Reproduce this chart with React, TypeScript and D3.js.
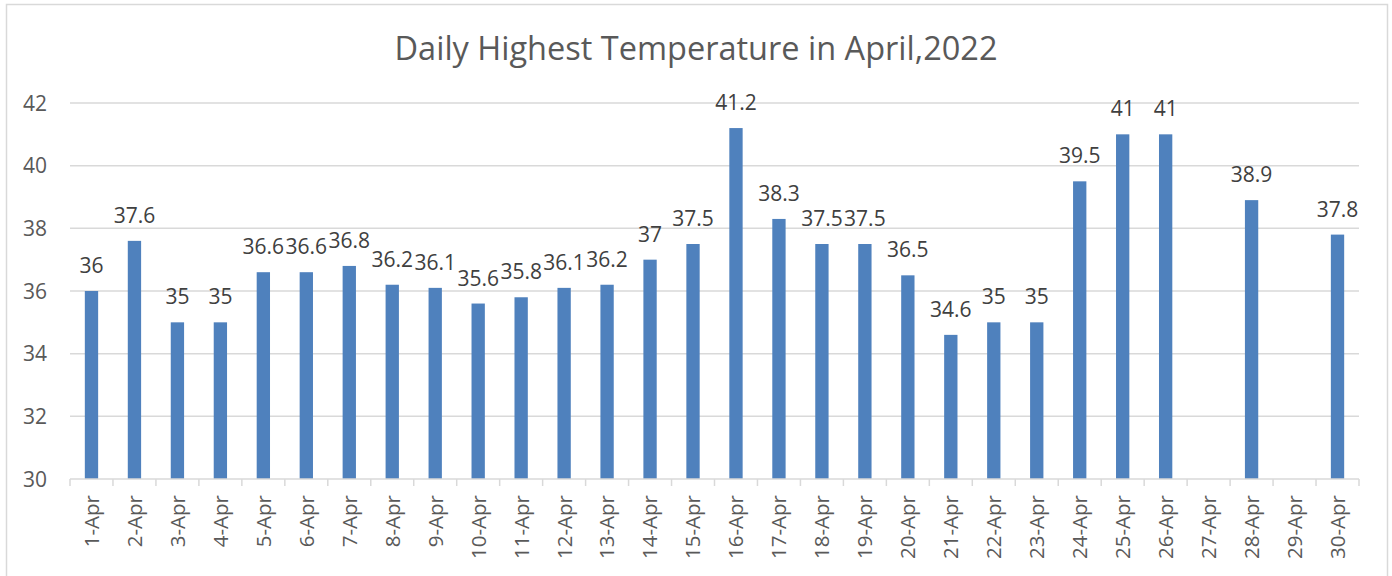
import React, { useEffect, useRef } from 'react';
import * as d3 from 'd3';

const days: string[] = [
    '1-Apr', '2-Apr', '3-Apr', '4-Apr', '5-Apr', '6-Apr', '7-Apr', '8-Apr', '9-Apr', '10-Apr',
    '11-Apr', '12-Apr', '13-Apr', '14-Apr', '15-Apr', '16-Apr', '17-Apr', '18-Apr', '19-Apr', '20-Apr',
    '21-Apr', '22-Apr', '23-Apr', '24-Apr', '25-Apr', '26-Apr', '27-Apr', '28-Apr', '29-Apr', '30-Apr',
];

const highs: (number | null)[] = [
    36, 37.6, 35, 35, 36.6, 36.6, 36.8, 36.2, 36.1, 35.6,
    35.8, 36.1, 36.2, 37, 37.5, 41.2, 38.3, 37.5, 37.5, 36.5,
    34.6, 35, 35, 39.5, 41, 41, null, 38.9, null, 37.8,
];

const yTicks = [30, 32, 34, 36, 38, 40, 42];
const title = 'Daily Highest Temperature in April,2022';

const W = 1392;
const H = 576;
const FONT = '"Open Sans", sans-serif';

const App: React.FC = () => {
    const svgRef = useRef<SVGSVGElement>(null);

    useEffect(() => {
        if (!svgRef.current) return;
        const svg = d3.select(svgRef.current);
        svg.selectAll('*').remove();

        const margin = { top: 103, right: 33, bottom: 97, left: 70 };
        const innerW = W - margin.left - margin.right;
        const innerH = H - margin.top - margin.bottom;

        // outer chart frame
        svg.append('rect')
            .attr('x', 6.5).attr('y', 4.5)
            .attr('width', 1381).attr('height', 600)
            .attr('fill', '#fff')
            .attr('stroke', '#d9d9d9')
            .attr('stroke-width', 1.5);

        svg.append('text')
            .attr('x', W / 2)
            .attr('y', 60)
            .attr('text-anchor', 'middle')
            .attr('font-family', FONT)
            .attr('font-size', 32.5)
            .attr('fill', '#595959')
            .text(title);

        const g = svg.append('g').attr('transform', `translate(${margin.left},${margin.top})`);

        const x = d3.scaleBand<string>()
            .domain(days)
            .range([0, innerW])
            .paddingInner(0.69)
            .paddingOuter(0.345);

        const y = d3.scaleLinear().domain([30, 42]).range([innerH, 0]);

        // gridlines
        g.append('g').selectAll('line')
            .data(yTicks.filter(t => t !== 30))
            .join('line')
            .attr('x1', 0).attr('x2', innerW)
            .attr('y1', d => y(d)).attr('y2', d => y(d))
            .attr('stroke', '#d9d9d9')
            .attr('stroke-width', 1.5);

        // y labels
        g.append('g').selectAll('text')
            .data(yTicks)
            .join('text')
            .attr('x', -23)
            .attr('y', d => y(d))
            .attr('dy', '0.36em')
            .attr('text-anchor', 'end')
            .attr('font-family', FONT)
            .attr('font-size', 21)
            .attr('fill', '#595959')
            .text(d => d);

        // bars
        const step = x.step();
        const data = days.map((d, i) => ({ day: d, v: highs[i] }));
        g.append('g').selectAll('rect')
            .data(data.filter(d => d.v !== null))
            .join('rect')
            .attr('x', d => x(d.day)!)
            .attr('width', x.bandwidth())
            .attr('y', d => y(d.v as number))
            .attr('height', d => innerH - y(d.v as number))
            .attr('fill', '#4f81bd');

        // value labels
        g.append('g').selectAll('text')
            .data(data.filter(d => d.v !== null))
            .join('text')
            .attr('x', d => x(d.day)! + x.bandwidth() / 2)
            .attr('y', d => y(d.v as number) - 18)
            .attr('text-anchor', 'middle')
            .attr('font-family', FONT)
            .attr('font-size', 21)
            .attr('fill', '#404040')
            .text(d => String(d.v));

        // x axis line + ticks
        const axis = g.append('g').attr('transform', `translate(0,${innerH})`);
        axis.append('line')
            .attr('x1', 0).attr('x2', innerW)
            .attr('stroke', '#d9d9d9').attr('stroke-width', 1.5);
        axis.selectAll('line.tick')
            .data(d3.range(days.length + 1))
            .join('line')
            .attr('class', 'tick')
            .attr('x1', i => i * step).attr('x2', i => i * step)
            .attr('y1', 0).attr('y2', 7)
            .attr('stroke', '#d9d9d9').attr('stroke-width', 1.5);

        axis.selectAll('text')
            .data(days)
            .join('text')
            .attr('transform', d => `translate(${x(d)! + x.bandwidth() / 2},16) rotate(-90)`)
            .attr('dy', '0.36em')
            .attr('text-anchor', 'end')
            .attr('font-family', FONT)
            .attr('font-size', 20.5)
            .attr('fill', '#595959')
            .text(d => d);
    }, []);

    return (
        <div style={{ position: 'absolute', left: 0, top: 0, width: W, height: H, overflow: 'hidden', background: '#fff' }}>
            <svg ref={svgRef} width={W} height={H} style={{ display: 'block' }} />
        </div>
    );
};

export default App;
